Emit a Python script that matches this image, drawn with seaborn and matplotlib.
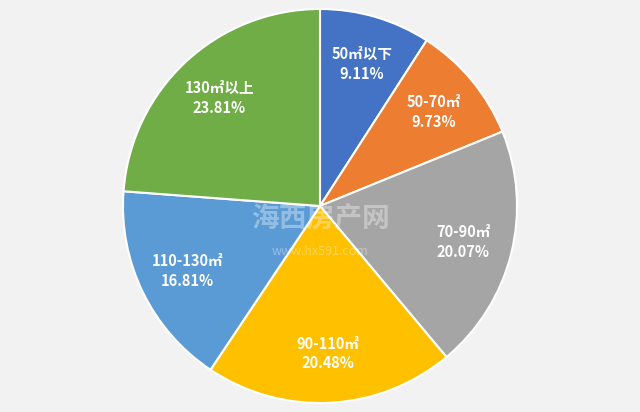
import matplotlib
matplotlib.use("Agg")
import matplotlib.pyplot as plt
import seaborn as sns

sns.set_theme(style="white")
plt.rcParams['font.family'] = ['Noto Sans CJK SC', 'DejaVu Sans']

categories = ["50㎡以下", "50-70㎡", "70-90㎡", "90-110㎡", "110-130㎡", "130㎡以上"]
values = [9.11, 9.73, 20.07, 20.48, 16.81, 23.81]
colors = ["#4472C4", "#ED7D31", "#A5A5A5", "#FFC000", "#5B9BD5", "#70AD47"]

fig = plt.figure(figsize=(6.4, 4.12), dpi=100, facecolor="#f2f2f2")
ax = fig.add_axes([(320 - 198) / 640, 8 / 412, 396 / 640, 396 / 412])
ax.set_facecolor("none")
labels = [f"{c}\n{v:.2f}%" for c, v in zip(categories, values)]
wedges, texts = ax.pie(values, labels=labels, colors=colors, startangle=90,
                       counterclock=False, labeldistance=0.75,
                       wedgeprops=dict(edgecolor="white", linewidth=1.5),
                       textprops=dict(color="white", fontsize=10.5, fontweight="bold",
                                      va="center", linespacing=1.3))
for t in texts:
    t.set_horizontalalignment("center")
ax.set_xlim(-1.005, 1.005)
ax.set_ylim(-1.005, 1.005)
ax.set_aspect("equal")
ax.axis("off")
fig.text(0.5, 0.47, "海西房产网", color="white", alpha=0.35, fontsize=20,
         ha="center", va="center", fontweight="bold")
fig.text(0.5, 0.39, "www.hx591.com", color="white", alpha=0.35, fontsize=9,
         ha="center", va="center")
fig.savefig("out.png", dpi=100, facecolor=fig.get_facecolor())
